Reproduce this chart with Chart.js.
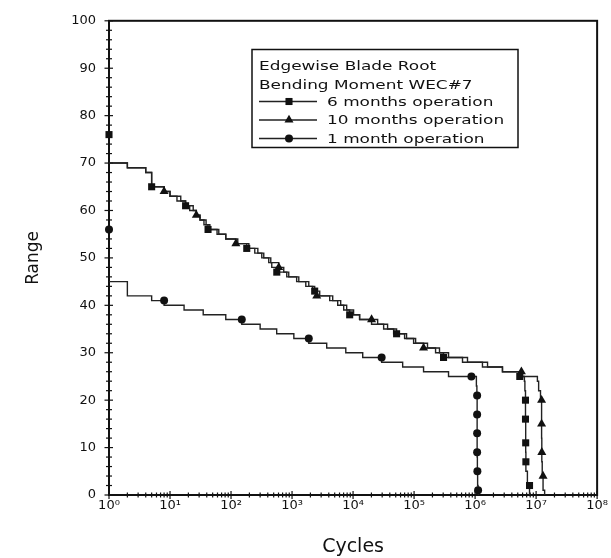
<!DOCTYPE html>
<html>
<head>
<meta charset="utf-8">
<script src="https://cdn.jsdelivr.net/npm/chart.js@4/dist/chart.umd.min.js"></script>
<style>
html,body{margin:0;padding:0;background:#fff;}
#wrap{width:611px;height:558px;}
</style>
</head>
<body>
<div id="wrap"><canvas id="c" width="611" height="558"></canvas></div>
<script>
// ---------- data ----------
const legendTitle = ['Edgewise Blade Root', 'Bending Moment WEC#7'];
const seriesNames = ['6 months operation', '10 months operation', '1 month operation'];
const xTickValues = [1, 10, 100, 1e3, 1e4, 1e5, 1e6, 1e7, 1e8];
const xTickLabels = ['10⁰', '10¹', '10²', '10³', '10⁴', '10⁵', '10⁶', '10⁷', '10⁸'];
const yTickValues = [0, 10, 20, 30, 40, 50, 60, 70, 80, 90, 100];
const xTitle = 'Cycles';
const yTitle = 'Range';

// 6 months operation: cumulative cycles at each range level
const cycles6 = [1, 2, 4, 5, 8, 10, 13, 18, 21, 27, 31, 36, 42, 59, 82, 129, 181, 245, 319, 415,
  465, 562, 819, 1190, 1680, 2350, 2840, 4140, 5600, 7020, 8800, 12800, 25300, 36800, 51700, 75300,
  106000, 166000, 225000, 304000, 622000, 1.32e6, 2.81e6, 5.33e6, 6.43e6, 6.55e6, 6.7e6, 6.75e6,
  6.8e6, 7.2e6, 7.8e6, 8.0e6];
const range6 = [70, 70, 69, 68, 65, 64, 63, 62, 61, 60, 59, 58, 57, 56, 55, 54, 53, 52, 51, 50,
  49, 48, 47, 46, 45, 44, 43, 42, 41, 40, 39, 38, 37, 36, 35, 34,
  33, 32, 31, 30, 29, 28, 27, 26, 25, 24, 22, 16,
  9, 5, 2, 0];

// 10 months operation
const cycles10 = [1, 2, 4, 5, 8, 10, 15, 18, 24, 27, 31, 39, 45, 63, 82, 120, 196, 275, 344, 448,
  606, 731, 883, 1290, 1880, 2180, 2540, 4640, 6270, 7860, 10200, 12800, 20100, 31700, 46200, 69900,
  98200, 143000, 261000, 367000, 751000, 1.6e6, 2.81e6, 5.74e6, 1.05e7, 1.1e7, 1.18e7, 1.23e7,
  1.24e7, 1.26e7, 1.3e7, 1.38e7, 1.42e7];
const range10 = [70, 70, 69, 68, 65, 64, 63, 62, 61, 60, 59, 58, 57, 56, 55, 54, 53, 52, 51, 50,
  49, 48, 47, 46, 45, 44, 43, 42, 41, 40, 39, 38, 37, 36, 35, 34,
  33, 32, 31, 30, 29, 28, 27, 26, 25, 24, 22, 20,
  12, 7, 4, 1, 0];

// 1 month operation
const cycles1 = [1, 2, 5, 8, 17, 35, 82, 150, 300, 560, 1070, 1880, 3700, 7600, 14400, 29400,
  65000, 143000, 367000, 1.05e6, 1.07e6, 1.08e6, 1.09e6, 1.1e6, 1.12e6, 1.13e6, 1.15e6];
const range1 = [45, 45, 42, 41, 40, 39, 38, 37, 36, 35, 34, 33, 32, 31, 30, 29,
  28, 27, 26, 25, 23, 21, 8, 5, 2, 1, 0];

// marker positions
const mark6Cycles = [1, 5, 18, 42, 181, 562, 2350, 8800, 51700, 304000, 5.4e6, 6.7e6, 6.7e6, 6.75e6, 6.8e6, 7.8e6];
const mark6Range = [76, 65, 61, 56, 52, 47, 43, 38, 34, 29, 25, 20, 16, 11, 7, 2];
const mark10Cycles = [8, 27, 120, 606, 2540, 20100, 143000, 5.74e6, 1.23e7, 1.23e7, 1.24e7, 1.3e7];
const mark10Range = [64, 59, 53, 48, 42, 37, 31, 26, 20, 15, 9, 4];
const mark1Cycles = [1, 8, 150, 1880, 29400, 8.7e5, 1.08e6, 1.08e6, 1.08e6, 1.08e6, 1.09e6, 1.12e6];
const mark1Range = [56, 41, 37, 33, 29, 25, 21, 17, 13, 9, 5, 1];

// ---------- helpers ----------
const pts = (xs, ys) => xs.map((x, i) => ({x: x, y: ys[i]}));
const FONT = '"DejaVu Sans", "Liberation Sans", sans-serif';
const INK = '#111';
const LINE = '#222';
const pointStyles = ['rect', 'triangle', 'circle'];
const pointRadii = [5, 5.2, 4];

function drawMarker(ctx, style, x, y, r) {
  ctx.beginPath();
  if (style === 'rect') {
    const h = r / Math.SQRT2;
    ctx.rect(x - h, y - h, 2 * h, 2 * h);
  } else if (style === 'triangle') {
    ctx.moveTo(x, y - r);
    ctx.lineTo(x + r * 0.866, y + r * 0.5);
    ctx.lineTo(x - r * 0.866, y + r * 0.5);
    ctx.closePath();
  } else {
    ctx.arc(x, y, r, 0, Math.PI * 2);
  }
  ctx.fill();
}

// frame and cross ticks
const framePlugin = {
  id: 'framePlugin',
  beforeDatasetsDraw(chart) {
    const {ctx, chartArea: a, scales} = chart;
    const xs = scales.x, ys = scales.y;
    ctx.save();
    ctx.strokeStyle = INK;
    ctx.lineWidth = 1.2;
    for (let v = 0; v <= 100; v += 2) {
      const py = ys.getPixelForValue(v);
      const major = v % 10 === 0;
      ctx.beginPath();
      ctx.moveTo(a.left - (major ? 4.5 : 3), py);
      ctx.lineTo(a.left + (major ? 4 : 3), py);
      ctx.stroke();
    }
    for (let e = 0; e <= 8; e++) {
      const base = Math.pow(10, e);
      const px = xs.getPixelForValue(base);
      ctx.beginPath();
      ctx.moveTo(px, a.bottom - 4);
      ctx.lineTo(px, a.bottom + 4);
      ctx.stroke();
      if (e === 8) break;
      for (let k = 2; k <= 9; k++) {
        const mx = xs.getPixelForValue(k * base);
        ctx.beginPath();
        ctx.moveTo(mx, a.bottom - 2.5);
        ctx.lineTo(mx, a.bottom + 2.5);
        ctx.stroke();
      }
    }
    ctx.lineWidth = 2;
    ctx.strokeRect(a.left, a.top, a.right - a.left, a.bottom - a.top);
    ctx.restore();
  }
};

// boxed legend with title
const legendPlugin = {
  id: 'legendPlugin',
  afterDraw(chart) {
    const ctx = chart.ctx;
    ctx.save();
    ctx.strokeStyle = INK;
    ctx.lineWidth = 1.5;
    ctx.strokeRect(252, 49.5, 266, 98);
    ctx.fillStyle = INK;
    ctx.font = '11.5px ' + FONT;
    ctx.textBaseline = 'alphabetic';
    const text = (t, x, y) => {
      ctx.save();
      ctx.translate(x, y);
      ctx.scale(1.47, 1);
      ctx.fillText(t, 0, 0);
      ctx.restore();
    };
    text(legendTitle[0], 259, 69.5);
    text(legendTitle[1], 259, 88.5);
    const rowY = [101.5, 120, 138.5];
    seriesNames.forEach((name, i) => {
      const y = rowY[i];
      ctx.strokeStyle = LINE;
      ctx.lineWidth = 1.4;
      ctx.beginPath();
      ctx.moveTo(259, y);
      ctx.lineTo(317, y);
      ctx.stroke();
      drawMarker(ctx, pointStyles[i], 289, y, pointRadii[i]);
      text(name, 327, y + 4.2);
    });
    ctx.restore();
  }
};

Chart.defaults.font.family = FONT;
Chart.defaults.color = INK;

const markerDataset = (label, xs, ys, i) => ({
  label: label + ' markers',
  data: pts(xs, ys),
  showLine: false,
  pointStyle: pointStyles[i],
  pointRadius: pointRadii[i],
  pointBackgroundColor: INK,
  pointBorderColor: INK,
  pointBorderWidth: 0,
  clip: false
});
const lineDataset = (label, xs, ys) => ({
  label: label,
  data: pts(xs, ys),
  stepped: 'after',
  borderColor: LINE,
  borderWidth: 1.4,
  pointRadius: 0,
  fill: false
});

new Chart(document.getElementById('c'), {
  type: 'line',
  data: {
    datasets: [
      markerDataset(seriesNames[0], mark6Cycles, mark6Range, 0),
      markerDataset(seriesNames[1], mark10Cycles, mark10Range, 1),
      markerDataset(seriesNames[2], mark1Cycles, mark1Range, 2),
      lineDataset(seriesNames[0], cycles6, range6),
      lineDataset(seriesNames[1], cycles10, range10),
      lineDataset(seriesNames[2], cycles1, range1)
    ]
  },
  options: {
    responsive: false,
    devicePixelRatio: 1,
    animation: false,
    events: [],
    layout: {padding: {top: 14, right: 13, left: 0, bottom: 0}},
    plugins: {
      legend: {display: false},
      tooltip: {enabled: false},
      title: {display: false}
    },
    scales: {
      x: {
        type: 'logarithmic',
        min: 1,
        max: 1e8,
        afterBuildTicks: s => { s.ticks = xTickValues.map(v => ({value: v})); },
        afterFit: s => { s.height = 63; },
        grid: {display: false, drawTicks: false},
        border: {display: false},
        ticks: {
          autoSkip: false,
          maxRotation: 0,
          padding: 3,
          color: INK,
          font: {size: 13, family: FONT},
          callback: (v, i) => xTickLabels[i]
        },
        title: {
          display: true,
          text: xTitle,
          color: INK,
          font: {size: 19, family: FONT},
          padding: {top: 0, bottom: 0}
        }
      },
      y: {
        type: 'linear',
        min: 0,
        max: 100,
        afterBuildTicks: s => { s.ticks = yTickValues.map(v => ({value: v})); },
        afterFit: s => { s.width = 109; },
        grid: {display: false, drawTicks: false},
        border: {display: false},
        ticks: {
          padding: 13,
          color: INK,
          font: {size: 13, family: FONT}
        },
        title: {
          display: true,
          text: yTitle,
          color: INK,
          font: {size: 17, family: FONT},
          padding: {top: 23, bottom: 0}
        }
      }
    }
  },
  plugins: [framePlugin, legendPlugin]
});
</script>
</body>
</html>
